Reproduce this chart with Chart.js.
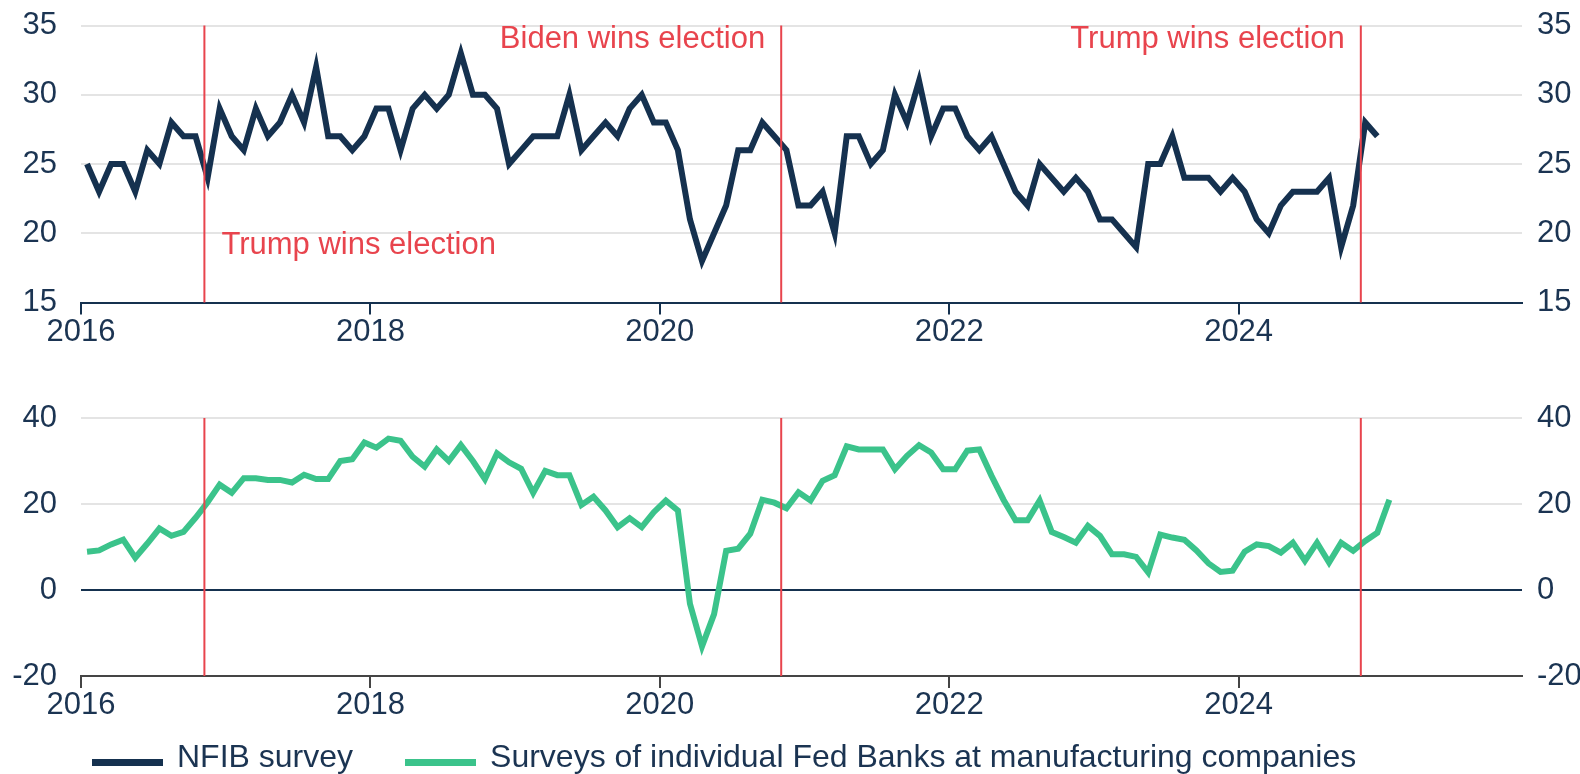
<!DOCTYPE html>
<html>
<head>
<meta charset="utf-8">
<script src="https://cdn.jsdelivr.net/npm/chart.js@4.4.1/dist/chart.umd.min.js"></script>
<style>
  html, body { margin: 0; padding: 0; background: #fff; }
  #wrap { position: relative; width: 1580px; height: 774px; overflow: hidden; font-family: 'Liberation Sans', Arial, sans-serif; }
  #topBox { position: absolute; left: 0; top: -14px; width: 1580px; height: 374px; }
  #bottomBox { position: absolute; left: 0; top: 370px; width: 1580px; height: 370px; }
  #legend { position: absolute; left: 92px; top: 738px; height: 36px; line-height: 36px; font-size: 32px; color: #1b3452; white-space: nowrap; }
  #legend .item { display: inline-block; margin-right: 52px; }
  #legend .swatch { display: inline-block; width: 71px; height: 7px; margin-right: 14px; vertical-align: baseline; position: relative; top: -1px; }
</style>
</head>
<body>
<div id="wrap">
  <div id="topBox"><canvas id="chart_top"></canvas></div>
  <div id="bottomBox"><canvas id="chart_bottom"></canvas></div>
  <div id="legend"></div>
</div>
<script>
// monthly readings, Jan 2016 onwards
var startYear = 2016;
var yearLabels = [2016, 2018, 2020, 2022, 2024];

var nfibName = 'NFIB survey';
var nfib = [
  25, 23, 25, 25, 23, 26, 25, 28, 27, 27,
  24, 29, 27, 26, 29, 27, 28, 30, 28, 32,
  27, 27, 26, 27, 29, 29, 26, 29, 30, 29,
  30, 33, 30, 30, 29, 25, 26, 27, 27, 27,
  30, 26, 27, 28, 27, 29, 30, 28, 28, 26,
  21, 18, 20, 22, 26, 26, 28, 27, 26, 22,
  22, 23, 20, 27, 27, 25, 26, 30, 28, 31,
  27, 29, 29, 27, 26, 27, 25, 23, 22, 25,
  24, 23, 24, 23, 21, 21, 20, 19, 25, 25,
  27, 24, 24, 24, 23, 24, 23, 21, 20, 22,
  23, 23, 23, 24, 19, 22, 28, 27
];

var fedName = 'Surveys of individual Fed Banks at manufacturing companies';
var fedBanks = [
  8.9, 9.2, 10.6, 11.7, 7.5, 10.8, 14.3, 12.6, 13.5, 16.8,
  20.4, 24.5, 22.6, 26.0, 26.0, 25.6, 25.6, 25.0, 26.8, 25.8,
  25.8, 30.0, 30.4, 34.3, 33.1, 35.2, 34.7, 31.0, 28.7, 32.7,
  30.0, 33.7, 30.0, 25.8, 31.8, 29.7, 28.2, 22.6, 27.7, 26.7,
  26.7, 19.8, 21.7, 18.5, 14.6, 16.7, 14.6, 18.1, 20.8, 18.5,
  -3.2, -13.1, -5.6, 9.1, 9.6, 13.1, 21.0, 20.3, 19.0, 22.7,
  20.8, 25.4, 26.7, 33.4, 32.7, 32.7, 32.7, 28.1, 31.2, 33.7,
  32.0, 28.1, 28.1, 32.4, 32.7, 26.6, 21.0, 16.2, 16.2, 20.8,
  13.5, 12.3, 11.0, 14.9, 12.6, 8.3, 8.3, 7.7, 4.1, 12.9,
  12.2, 11.7, 9.2, 6.2, 4.2, 4.5, 8.9, 10.6, 10.2, 8.7,
  11.0, 6.8, 11.0, 6.4, 11.0, 9.1, 11.4, 13.3, 21.0
];

// US election days
var elections = [
  { year: 2016, month: 11, day: 8 },
  { year: 2020, month: 11, day: 3 },
  { year: 2024, month: 11, day: 5 }
];
var electionLabels = [
  { text: 'Trump wins election', election: 0, side: 'right', value: 19.1 },
  { text: 'Biden wins election', election: 1, side: 'left', value: 34.0 },
  { text: 'Trump wins election', election: 2, side: 'left', value: 34.0 }
];

var NAVY = '#15314f';
var GREEN = '#3bc38b';
var RED = '#e8444d';
var TEXT = '#1b3452';
var GRID = '#e4e4e4';
var AXIS_GRAY = '#454545';
var FONT = "'Liberation Sans', Arial, sans-serif";

function monthValue(e) {
  return (e.year - startYear) * 12 + (e.month - 1) + (e.day - 1) / 30;
}
function toPoints(values) {
  return values.map(function(v, i) { return { x: i + 0.5, y: v }; });
}

Chart.defaults.font.family = FONT;
Chart.defaults.color = TEXT;

var electionPlugin = {
  id: 'elections',
  afterDatasetsDraw: function(chart, args, options) {
    var ctx = chart.ctx, area = chart.chartArea, xs = chart.scales.x, ys = chart.scales.y;
    ctx.save();
    ctx.strokeStyle = RED;
    ctx.lineWidth = 2;
    elections.forEach(function(e) {
      var x = xs.getPixelForValue(monthValue(e));
      ctx.beginPath();
      ctx.moveTo(x, area.top);
      ctx.lineTo(x, area.bottom);
      ctx.stroke();
    });
    if (options.labels) {
      ctx.fillStyle = RED;
      ctx.font = '31px ' + FONT;
      ctx.textBaseline = 'middle';
      electionLabels.forEach(function(l) {
        var x = xs.getPixelForValue(monthValue(elections[l.election]));
        var y = ys.getPixelForValue(l.value);
        if (l.side === 'right') {
          ctx.textAlign = 'left';
          ctx.fillText(l.text, x + 17, y);
        } else {
          ctx.textAlign = 'right';
          ctx.fillText(l.text, x - 16, y);
        }
      });
    }
    ctx.restore();
  }
};

var whiteBg = {
  id: 'whiteBg',
  beforeDraw: function(chart) {
    var ctx = chart.canvas.getContext('2d');
    ctx.save();
    ctx.globalCompositeOperation = 'destination-over';
    ctx.fillStyle = 'white';
    ctx.fillRect(0, 0, chart.canvas.width, chart.canvas.height);
    ctx.restore();
  }
};

function xScale(axisColor, tickColor, height) {
  return {
    type: 'linear',
    min: 0,
    max: 119.5,
    afterBuildTicks: function(scale) {
      scale.ticks = yearLabels.map(function(y) { return { value: (y - startYear) * 12 }; });
    },
    afterFit: function(scale) { scale.height = height; },
    grid: { display: true, drawOnChartArea: false, drawTicks: true, tickLength: 12, color: tickColor, lineWidth: 2 },
    border: { display: true, color: axisColor, width: 2 },
    ticks: {
      autoSkip: false,
      maxRotation: 0,
      padding: 2,
      color: TEXT,
      font: { size: 31, lineHeight: 1 },
      callback: function(v) { return String(startYear + Math.round(v / 12)); }
    }
  };
}

function yScales(min, max, step, gridColorFn) {
  return {
    y: {
      position: 'left',
      min: min, max: max,
      afterFit: function(scale) { scale.width = 81; },
      border: { display: false },
      grid: { drawTicks: false, lineWidth: 2, color: gridColorFn },
      ticks: { stepSize: step, padding: 24, color: TEXT, font: { size: 31, lineHeight: 1 } }
    },
    y2: {
      position: 'right',
      min: min, max: max,
      afterFit: function(scale) { scale.width = 58; },
      border: { display: false },
      grid: { display: false, drawTicks: false },
      ticks: { stepSize: step, padding: 15, color: TEXT, font: { size: 31, lineHeight: 1 } }
    }
  };
}

var topScales = yScales(15, 35, 5, function(c) {
  return c.tick.value === 15 ? 'rgba(0,0,0,0)' : GRID;
});
topScales.x = xScale(NAVY, NAVY, 57.5);

var chart_top = new Chart(document.getElementById('chart_top'), {
  type: 'line',
  data: {
    datasets: [{
      label: nfibName,
      data: toPoints(nfib),
      borderColor: NAVY,
      borderWidth: 6,
      pointRadius: 0,
      tension: 0,
      yAxisID: 'y'
    }]
  },
  options: {
    animation: false,
    responsive: true,
    maintainAspectRatio: false,
    layout: { padding: { top: 25, left: 0, right: 0, bottom: 0 } },
    plugins: {
      legend: { display: false },
      tooltip: { enabled: false },
      elections: { labels: true }
    },
    scales: topScales
  },
  plugins: [electionPlugin, whiteBg]
});

var bottomScales = yScales(-20, 40, 20, function(c) {
  if (c.tick.value === -20) return 'rgba(0,0,0,0)';
  if (c.tick.value === 0) return NAVY;
  return GRID;
});
bottomScales.x = xScale(AXIS_GRAY, AXIS_GRAY, 64);

var chart_bottom = new Chart(document.getElementById('chart_bottom'), {
  type: 'line',
  data: {
    datasets: [{
      label: fedName,
      data: toPoints(fedBanks),
      borderColor: GREEN,
      borderWidth: 6,
      pointRadius: 0,
      tension: 0,
      yAxisID: 'y'
    }]
  },
  options: {
    animation: false,
    responsive: true,
    maintainAspectRatio: false,
    layout: { padding: { top: 48, left: 0, right: 0, bottom: 0 } },
    plugins: {
      legend: { display: false },
      tooltip: { enabled: false },
      elections: { labels: false }
    },
    scales: bottomScales
  },
  plugins: [electionPlugin, whiteBg]
});

// legend below both panels
var legendItems = [
  { name: nfibName, color: NAVY },
  { name: fedName, color: GREEN }
];
var legendEl = document.getElementById('legend');
legendItems.forEach(function(it) {
  var span = document.createElement('span');
  span.className = 'item';
  var sw = document.createElement('span');
  sw.className = 'swatch';
  sw.style.background = it.color;
  span.appendChild(sw);
  span.appendChild(document.createTextNode(it.name));
  legendEl.appendChild(span);
});
</script>
</body>
</html>
